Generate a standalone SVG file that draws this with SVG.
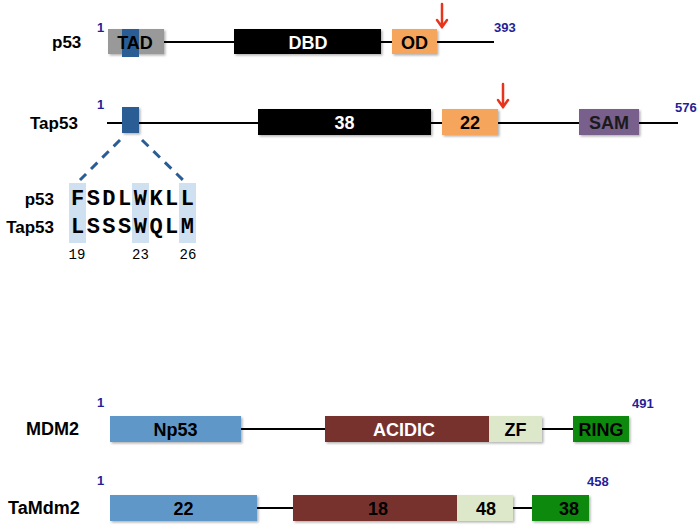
<svg xmlns="http://www.w3.org/2000/svg" width="700" height="529" viewBox="0 0 700 529">
<style>
.lbl{font-family:"Liberation Sans",Arial,sans-serif;font-weight:bold;font-size:17px;fill:#000}
.lbl2{font-family:"Liberation Sans",Arial,sans-serif;font-weight:bold;font-size:18px;fill:#000}
.num{font-family:"Liberation Sans",Arial,sans-serif;font-weight:bold;font-size:13px;fill:#1f1f99}
.bt{font-family:"Liberation Sans",Arial,sans-serif;font-weight:bold;font-size:18px;text-anchor:middle}
.bk{fill:#000}.wh{fill:#fff}
.bb{stroke:#000;stroke-width:2;fill:none}
.dash{stroke:#2a5d94;stroke-width:3;stroke-dasharray:9 7;fill:none}
.arr{stroke:#e8341c;stroke-width:2.5;fill:none;stroke-linecap:round}
.seq{font-family:"Liberation Mono","Courier New",monospace;font-weight:bold;font-size:22px;fill:#000}
.pos{font-family:"Liberation Mono","Courier New",monospace;font-size:14px;fill:#000;text-anchor:middle}
.hl{fill:#cfe0f1}
</style>
<defs>
<filter id="sh" x="-10%" y="-20%" width="130%" height="150%">
<feDropShadow dx="1.5" dy="1.5" stdDeviation="1" flood-color="#000" flood-opacity="0.3"/>
</filter>
</defs>

<g id="connectors">
<line class="bb" x1="164" y1="42" x2="235" y2="42"/>
<line class="bb" x1="380" y1="42" x2="392" y2="42"/>
<line class="bb" x1="437" y1="42" x2="494" y2="42"/>
<line class="bb" x1="107" y1="123" x2="678" y2="123"/>
<line class="dash" x1="120" y1="140" x2="80" y2="180"/>
<line class="dash" x1="142" y1="140" x2="183" y2="180"/>
<line class="bb" x1="241" y1="429" x2="325" y2="429"/>
<line class="bb" x1="542" y1="429" x2="573" y2="429"/>
<line class="bb" x1="257" y1="508" x2="293" y2="508"/>
<line class="bb" x1="513" y1="508" x2="532" y2="508"/>
<path class="arr" d="M442 4 V27 M437 20 L442 27 L447 20"/>
<path class="arr" d="M503 84 V107 M498 100 L503 107 L508 100"/>
</g>

<g id="p53">
<text class="lbl" x="52" y="48">p53</text>
<text class="num" x="97" y="32">1</text>
<text class="num" x="494" y="32">393</text>
</g>
<g id="p53-TAD">
<rect x="108" y="29" width="56" height="25" fill="#999999" filter="url(#sh)"/>
<rect x="122" y="29" width="17" height="28" fill="#2a5d94"/>
<text class="bt bk" x="135" y="48.5">TAD</text>
</g>
<g id="p53-DBD">
<rect x="234" y="29" width="147" height="25" fill="#000" filter="url(#sh)"/>
<text class="bt wh" x="308" y="48.5">DBD</text>
</g>
<g id="p53-OD">
<rect x="392" y="29" width="45" height="25" fill="#f6a65b" filter="url(#sh)"/>
<text class="bt bk" x="414.5" y="48.5">OD</text>
</g>

<g id="Tap53">
<text class="lbl" x="30" y="129">Tap53</text>
<text class="num" x="97" y="109">1</text>
<text class="num" x="675" y="112">576</text>
</g>
<g id="Tap53-TAD">
<rect x="122" y="107" width="17" height="26" fill="#2a5d94" filter="url(#sh)"/>
</g>
<g id="Tap53-38">
<rect x="258" y="109" width="173" height="26" fill="#000" filter="url(#sh)"/>
<text class="bt wh" x="344.5" y="128.5">38</text>
</g>
<g id="Tap53-22">
<rect x="442" y="109" width="56" height="26" fill="#f6a65b" filter="url(#sh)"/>
<text class="bt bk" x="470" y="128.5">22</text>
</g>
<g id="Tap53-SAM">
<rect x="579" y="109" width="60" height="26" fill="#785f8c" filter="url(#sh)"/>
<text class="bt" fill="#1a1a1a" x="609" y="128.5">SAM</text>
</g>

<g id="alignment">
<rect class="hl" x="69" y="183" width="17" height="60"/>
<rect class="hl" x="132" y="183" width="17" height="60"/>
<rect class="hl" x="179" y="183" width="17" height="60"/>
<text class="lbl" x="54" y="205" text-anchor="end">p53</text>
<text class="lbl" x="54" y="233" text-anchor="end">Tap53</text>
<text class="seq" x="71" y="205" textLength="123" lengthAdjust="spacing">FSDLWKLL</text>
<text class="seq" x="71" y="233" textLength="123" lengthAdjust="spacing">LSSSWQLM</text>
<text class="pos" x="77" y="259">19</text>
<text class="pos" x="140.5" y="259">23</text>
<text class="pos" x="188" y="259">26</text>
</g>

<g id="MDM2">
<text class="lbl2" x="26" y="435">MDM2</text>
<text class="num" x="97" y="407">1</text>
<text class="num" x="632" y="408">491</text>
</g>
<g id="MDM2-Np53">
<rect x="110" y="416" width="131" height="26" fill="#5f97c9" filter="url(#sh)"/>
<text class="bt bk" x="175.5" y="435.5">Np53</text>
</g>
<g id="MDM2-ACIDIC">
<rect x="325" y="416" width="164" height="26" fill="#77302f" filter="url(#sh)"/>
<text class="bt wh" x="404" y="435.5">ACIDIC</text>
</g>
<g id="MDM2-ZF">
<rect x="489" y="416" width="53" height="26" fill="#dde8cb" filter="url(#sh)"/>
<text class="bt bk" x="515.5" y="435.5">ZF</text>
</g>
<g id="MDM2-RING">
<rect x="573" y="416" width="56" height="26" fill="#0a8a10" filter="url(#sh)"/>
<text class="bt bk" x="601" y="435.5">RING</text>
</g>

<g id="TaMdm2">
<text class="lbl2" x="8" y="514">TaMdm2</text>
<text class="num" x="97" y="485">1</text>
<text class="num" x="587" y="486">458</text>
</g>
<g id="TaMdm2-22">
<rect x="110" y="495" width="147" height="26" fill="#5f97c9" filter="url(#sh)"/>
<text class="bt bk" x="183.5" y="514.5">22</text>
</g>
<g id="TaMdm2-18">
<rect x="293" y="495" width="164" height="26" fill="#77302f" filter="url(#sh)"/>
<text class="bt bk" x="378" y="514.5">18</text>
</g>
<g id="TaMdm2-48">
<rect x="457" y="495" width="56" height="26" fill="#dde8cb" filter="url(#sh)"/>
<text class="bt bk" x="486" y="514.5">48</text>
</g>
<g id="TaMdm2-38">
<rect x="532" y="495" width="57" height="26" fill="#0a8a10" filter="url(#sh)"/>
<text class="bt bk" x="569" y="514.5">38</text>
</g>
</svg>
